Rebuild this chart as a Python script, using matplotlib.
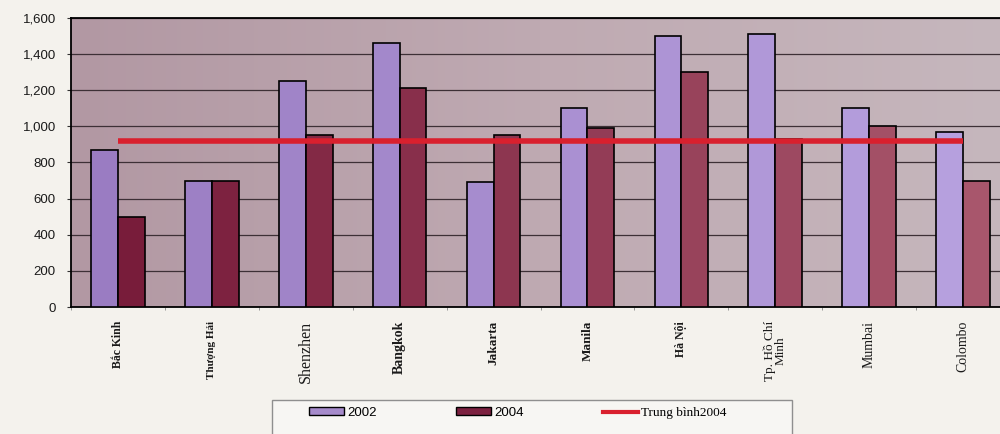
import numpy as np
import matplotlib
matplotlib.use('Agg')
import matplotlib.pyplot as plt
import matplotlib.patches as plp
from matplotlib.lines import Line2D
from matplotlib.colors import LinearSegmentedColormap, to_rgb

cities = ['Bắc Kinh', 'Thượng Hải', 'Shenzhen', 'Bangkok', 'Jakarta',
          'Manila', 'Hà Nội', 'Tp. Hồ Chí\nMinh', 'Mumbai', 'Colombo']
values_2002 = [870, 700, 1250, 1460, 690, 1100, 1500, 1510, 1100, 970]
values_2004 = [500, 700, 950, 1210, 950, 990, 1300, 930, 1000, 700]
trung_binh_2004 = 920
y_ticks = [0, 200, 400, 600, 800, 1000, 1200, 1400, 1600]

# label look per city (size in pt, bold or not)
label_sizes = [8.5, 8, 11.5, 10, 9.5, 9.5, 8.5, 9.5, 10, 10]
label_bold = [True, True, False, True, True, True, True, False, False, False]


def blend(c1, c2, t):
    a, b = np.array(to_rgb(c1)), np.array(to_rgb(c2))
    return tuple(a + (b - a) * t)


fig = plt.figure(figsize=(10, 4.34), dpi=100, facecolor='#f4f2ed')
ax = fig.add_axes([0.071, 0.2926, 0.939, 0.666])

n = len(cities)
x = np.arange(n)
w = 1 / 3.5
shade = np.linspace(0, 1, n)

cols_2002 = [blend('#9a7cc2', '#b6a0de', t) for t in shade]
cols_2004 = [blend('#781c3a', '#a8566c', t) for t in shade]

ax.bar(x - w / 2, values_2002, w, color=cols_2002, edgecolor='black', linewidth=1.2, zorder=3)
ax.bar(x + w / 2, values_2004, w, color=cols_2004, edgecolor='black', linewidth=1.2, zorder=3)
ax.plot([x[0], x[-1]], [trung_binh_2004] * 2, color='#d9202e', linewidth=4, zorder=4,
        solid_capstyle='butt')

# plot area fill, a bit darker on the left
bg = LinearSegmentedColormap.from_list('bg', ['#b298a3', '#bfaab2', '#c6b7bd'])
ax.imshow(np.linspace(0, 1, 256)[None, :], cmap=bg, aspect='auto',
          extent=(0, 1, 0, 1), transform=ax.transAxes, zorder=0)

ax.set_xlim(-0.5, n - 0.5)
ax.set_ylim(0, 1600)
ax.set_yticks(y_ticks)
ax.set_yticklabels(['{:,}'.format(v) for v in y_ticks], fontsize=9.5,
                   family='Liberation Sans', color='#1a1a1a')
ax.yaxis.grid(True, color='#3d3036', linewidth=0.9, zorder=1)
ax.set_axisbelow(True)

ax.set_xticks(x)
ax.set_xticklabels(cities, rotation=90, va='top', ha='center', family='Liberation Serif',
                   linespacing=0.9)
for lbl, sz, bd in zip(ax.get_xticklabels(), label_sizes, label_bold):
    lbl.set_fontsize(sz)
    lbl.set_fontweight('bold' if bd else 'normal')
    lbl.set_color('#1a1a1a')
ax.tick_params(axis='x', length=0, pad=10)
ax.set_xticks(np.arange(-0.5, n, 1), minor=True)
ax.tick_params(axis='x', which='minor', length=2, width=0.6, color='#888')
ax.tick_params(axis='y', length=3, color='#333', pad=8)

for side in ['left', 'top', 'bottom']:
    ax.spines[side].set_color('black')
    ax.spines[side].set_linewidth(1.3)
ax.spines['right'].set_visible(False)

# legend box runs off the bottom edge
fig.patches.append(plp.Rectangle((0.272, -0.1), 0.52, 0.1 + 1 - 400 / 434, transform=fig.transFigure,
                                 facecolor='#f7f6f3', edgecolor='#8f8f8f', linewidth=1.0, zorder=0))
handles = [plp.Patch(facecolor='#a68bcb', edgecolor='black', linewidth=1.0),
           plp.Patch(facecolor='#7c2140', edgecolor='black', linewidth=1.0),
           Line2D([0], [0], color='#d9202e', linewidth=3)]
leg = fig.legend(handles, ['2002', '2004', 'Trung bình2004'], ncol=3, frameon=False,
                 loc='center left', bbox_to_anchor=(0.309, 1 - 413 / 434),
                 borderpad=0, borderaxespad=0, handlelength=2.65, handleheight=0.55,
                 handletextpad=0.25, columnspacing=6.0,
                 prop={'family': 'Liberation Sans', 'size': 9.5})
txt = leg.get_texts()[2]
txt.set_fontfamily('Liberation Serif')
txt.set_fontsize(9.5)

fig.savefig('out.png', facecolor=fig.get_facecolor())
